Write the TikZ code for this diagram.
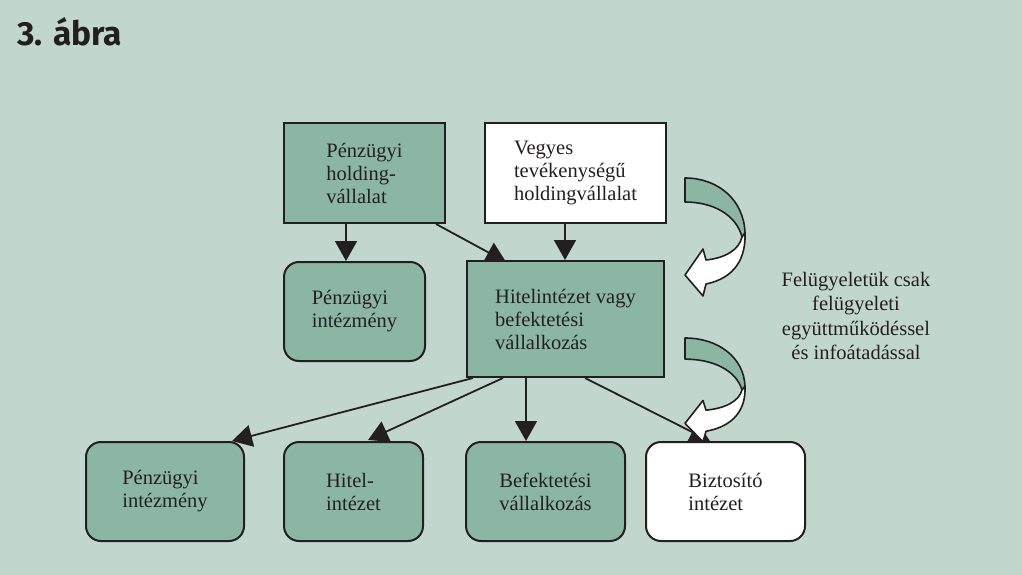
\documentclass[tikz,border=0pt]{standalone}
\usepackage{fontspec}
\setmainfont{Liberation Serif}
\newfontfamily\titlefont{Fira Sans}
\usetikzlibrary{arrows.meta,calc}
\definecolor{bgcol}{RGB}{193,215,205}
\definecolor{boxgreen}{RGB}{140,182,164}
\definecolor{inkcol}{RGB}{35,31,32}
\pgfdeclarelayer{bglayer}
\pgfdeclarelayer{connlayer}
\pgfsetlayers{bglayer,connlayer,main}
\tikzset{
  boxbase/.style={draw=inkcol, line width=2pt, inner sep=0pt, align=left,
    text=inkcol, font=\fontsize{20.5}{23}\selectfont},
  sqbox/.style={boxbase, fill=boxgreen},
  sqwhite/.style={boxbase, fill=white},
  rbox/.style={boxbase, fill=boxgreen, rounded corners=15pt},
  rwhite/.style={boxbase, fill=white, rounded corners=15pt},
  conn/.style={draw=inkcol, line width=1.8pt, -{Triangle[length=20pt,width=22pt]}},
  bandstyle/.style={draw=inkcol, line width=1.6pt, line join=round},
  curvearrow/.pic={
    \path[bandstyle, fill=boxgreen] (0,0) .. controls (33,0) and (59,22) .. (60,55)
      -- (57,59) .. controls (51,36) and (27,24) .. (0,24) -- cycle;
    \path[bandstyle, fill=white] (57,59) .. controls (54,72) and (40,80) .. (21,82)
      -- (18,71) -- (0,97) -- (18,118) -- (21,106)
      .. controls (50,100) and (61,80) .. (60,55) -- cycle;
  }
}
\begin{document}
\begin{tikzpicture}[x=1pt,y=-1pt]
\useasboundingbox (0,0) rectangle (1022,575);
\begin{pgfonlayer}{bglayer}
  \fill[bgcol] (0,0) rectangle (1022,575);
\end{pgfonlayer}

\node[anchor=base west, inner sep=0pt, text=inkcol, font=\titlefont\bfseries\fontsize{33.5}{38}\selectfont] (title) at (17,45.5) {3. ábra};

\node[sqbox, minimum width=161pt, minimum height=100pt] (b1) at (364.5,173) {Pénzügyi\\holding-\\vállalat};
\node[sqwhite, minimum width=181pt, minimum height=100pt] (b2) at (575.5,173) {Vegyes\\tevékenységű\\holdingvállalat};
\node[rbox, minimum width=141pt, minimum height=99pt] (b3) at (354.5,311.5) {Pénzügyi\\intézmény};
\node[sqbox, minimum width=197pt, minimum height=116pt] (b4) at (565.5,319) {Hitelintézet vagy\\befektetési\\vállalkozás};

\node[rbox, minimum width=158pt, minimum height=99pt] (bA) at (165,491.5) {Pénzügyi\\intézmény};
\node[rbox, minimum width=139pt, minimum height=99pt] (bB) at (353.5,491.5) {Hitel-\\intézet};
\node[rbox, minimum width=159pt, minimum height=99pt] (bC) at (545.5,491.5) {Befektetési\\vállalkozás};
\node[rwhite, minimum width=159pt, minimum height=99pt] (bD) at (725.5,491.5) {Biztosító\\intézet};

\node[align=center, text=inkcol, inner sep=0pt, font=\fontsize{20.5}{24.5}\selectfont] (note) at (856,316) {Felügyeletük csak\\felügyeleti\\együttműködéssel\\és infoátadással};

\begin{pgfonlayer}{connlayer}
  \draw[conn] ($(b1.south west)+(63,0)$) coordinate (s1) -- (s1 |- b3.north);
  \draw[conn] ($(b1.south west)+(153,0)$) -- ($(b4.north west)+(40,2)$);
  \draw[conn] ($(b2.south west)+(81,0)$) coordinate (s2) -- (s2 |- b4.north);
  \draw[conn] ($(b4.south west)+(7,0)$) -- ($(bA.north west)+(147,0)$);
  \draw[conn] ($(b4.south west)+(37,0)$) -- ($(bB.north west)+(85,-1)$);
  \draw[conn] ($(b4.south west)+(60,0)$) coordinate (s3) -- (s3 |- bC.north);
  \draw[conn] ($(b4.south west)+(119,0)$) -- ($(bD.north west)+(65,0)$);
\end{pgfonlayer}

\pic at (685,178) {curvearrow};
\pic[yscale=0.88] at (685,338) {curvearrow};
\end{tikzpicture}
\end{document}
